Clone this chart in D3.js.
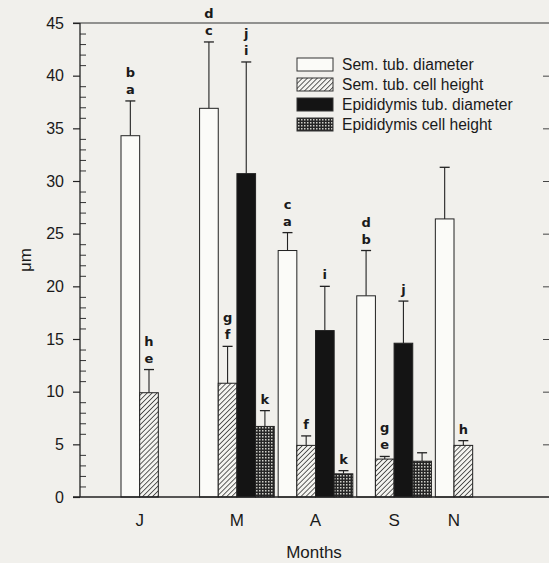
<!DOCTYPE html>
<html>
<head>
<meta charset="utf-8">
<script src="https://cdn.jsdelivr.net/npm/d3@7"></script>
<style>
  html, body { margin: 0; padding: 0; background: #f1f0ec; }
  svg { display: block; }
  .tick-label { font-family: "Liberation Sans", Arial, sans-serif; font-size: 16px; fill: #1a1a1a; }
  .month-label { font-family: "Liberation Sans", Arial, sans-serif; font-size: 17px; fill: #1a1a1a; }
  .axis-title { font-family: "Liberation Sans", Arial, sans-serif; font-size: 17px; fill: #1a1a1a; }
  .legend-text { font-family: "Liberation Sans", Arial, sans-serif; font-size: 15.6px; fill: #1a1a1a; }
  .sig { font-family: "DejaVu Sans", sans-serif; font-size: 13px; font-weight: bold; fill: #1a1a1a; }
</style>
</head>
<body>
<script>
/******************* Data ***********************************/
var months = ['J', 'M', 'A', 'S', 'N'];
var seriesNames = ['Sem. tub. diameter', 'Sem. tub. cell height', 'Epididymis tub. diameter', 'Epididymis cell height'];

var semDiameter = [34.3, 36.9, 23.4, 19.1, 26.4];
var semDiameterErr = [3.3, 6.3, 1.7, 4.3, 4.9];
var semDiameterSig = [['b', 'a'], ['d', 'c'], ['c', 'a'], ['d', 'b'], []];

var semHeight = [9.9, 10.8, 4.9, 3.6, 4.9];
var semHeightErr = [2.2, 3.5, 0.9, 0.25, 0.45];
var semHeightSig = [['h', 'e'], ['g', 'f'], ['f'], ['g', 'e'], ['h']];

var epiDiameter = [null, 30.7, 15.8, 14.6, null];
var epiDiameterErr = [null, 10.6, 4.2, 4.0, null];
var epiDiameterSig = [[], ['j', 'i'], ['i'], ['j'], []];

var epiHeight = [null, 6.7, 2.2, 3.4, null];
var epiHeightErr = [null, 1.5, 0.3, 0.8, null];
var epiHeightSig = [[], ['k'], ['k'], [], []];

var yTicks = [0, 5, 10, 15, 20, 25, 30, 35, 40, 45];

/******************* Setup **********************************/
var width = 549, height = 563;
var fills = ['#fbfbf8', 'url(#hatch)', '#141414', 'url(#checks)'];

var values = [semDiameter, semHeight, epiDiameter, epiHeight];
var errors = [semDiameterErr, semHeightErr, epiDiameterErr, epiHeightErr];
var sigs = [semDiameterSig, semHeightSig, epiDiameterSig, epiHeightSig];

var svg = d3.select('body').append('svg')
  .attr('width', width)
  .attr('height', height);

var defs = svg.append('defs');

var hatch = defs.append('pattern')
  .attr('id', 'hatch')
  .attr('patternUnits', 'userSpaceOnUse')
  .attr('width', 3.5)
  .attr('height', 3.5)
  .attr('patternTransform', 'rotate(45)');
hatch.append('rect').attr('width', 3.5).attr('height', 3.5).attr('fill', '#f4f4f0');
hatch.append('line')
  .attr('x1', 0).attr('y1', 0).attr('x2', 0).attr('y2', 3.5)
  .attr('stroke', '#2a2a2a').attr('stroke-width', 1.5);

// fine checker: dark ground with light dots
var checks = defs.append('pattern')
  .attr('id', 'checks')
  .attr('patternUnits', 'userSpaceOnUse')
  .attr('width', 3)
  .attr('height', 3);
checks.append('rect').attr('width', 3).attr('height', 3).attr('fill', '#262626');
checks.append('rect').attr('x', 1).attr('y', 1).attr('width', 1.5).attr('height', 1.5).attr('fill', '#cfcfc9');

var y = d3.scaleLinear().domain([0, 45]).range([497, 23]);

var x = d3.scaleBand()
  .domain(months)
  .range([121, 510])
  .paddingInner(0.05)
  .paddingOuter(0);

var xs = d3.scaleBand()
  .domain(d3.range(seriesNames.length))
  .range([0, x.bandwidth()]);

var axisLeft = 80, axisRight = 549;

/******************* Frame & axes ***************************/
svg.append('line')
  .attr('x1', 73).attr('x2', axisRight + 1)
  .attr('y1', y(45)).attr('y2', y(45))
  .attr('stroke', '#333').attr('stroke-width', 1.2);

var yAxis = d3.axisLeft(y)
  .tickValues(yTicks)
  .tickSize(7)
  .tickPadding(9)
  .tickFormat(d3.format('d'));

var gy = svg.append('g')
  .attr('transform', 'translate(' + axisLeft + ',0)')
  .call(yAxis);
gy.select('.domain').remove();
gy.selectAll('.tick line').attr('stroke', '#222').attr('stroke-width', 1.2);
gy.selectAll('.tick text').attr('class', 'tick-label').attr('font-size', null).attr('font-family', null);

var minorTicks = d3.range(0, 46).filter(function(v) { return v % 5 !== 0; });
var yMinor = d3.axisRight(y)
  .tickValues(minorTicks)
  .tickSize(6)
  .tickFormat('');
var gm = svg.append('g')
  .attr('transform', 'translate(' + axisLeft + ',0)')
  .call(yMinor);
gm.select('.domain').remove();
gm.selectAll('.tick line').attr('stroke', '#333').attr('stroke-width', 1);

svg.append('line')
  .attr('x1', axisLeft).attr('x2', axisLeft)
  .attr('y1', y(45)).attr('y2', y(0))
  .attr('stroke', '#222').attr('stroke-width', 1.3);

var yRight = d3.axisLeft(y)
  .tickValues(yTicks.slice(1, -1))
  .tickSize(6)
  .tickFormat('');
var gr = svg.append('g')
  .attr('transform', 'translate(' + axisRight + ',0)')
  .call(yRight);
gr.select('.domain').remove();
gr.selectAll('.tick line').attr('stroke', '#444').attr('stroke-width', 1);

svg.append('text')
  .attr('class', 'axis-title')
  .attr('transform', 'translate(31,' + y(22.5) + ') rotate(-90)')
  .attr('text-anchor', 'middle')
  .text('μm');

/******************* Bars ***********************************/
var barData = [];
values.forEach(function(vals, s) {
  vals.forEach(function(v, m) {
    if (v !== null) {
      barData.push({ month: months[m], s: s, value: v, err: errors[s][m], sig: sigs[s][m] });
    }
  });
});

function barX(d) { return x(d.month) + xs(d.s); }
function barMid(d) { return barX(d) + xs.bandwidth() / 2; }

var bars = svg.append('g').selectAll('g.bar')
  .data(barData)
  .enter().append('g')
  .attr('class', 'bar');

bars.append('line')
  .attr('x1', barMid).attr('x2', barMid)
  .attr('y1', function(d) { return y(d.value); })
  .attr('y2', function(d) { return y(d.value + d.err); })
  .attr('stroke', '#222').attr('stroke-width', 1.1);

bars.append('line')
  .attr('x1', function(d) { return barMid(d) - 5; })
  .attr('x2', function(d) { return barMid(d) + 5; })
  .attr('y1', function(d) { return y(d.value + d.err); })
  .attr('y2', function(d) { return y(d.value + d.err); })
  .attr('stroke', '#222').attr('stroke-width', 1.3);

bars.append('rect')
  .attr('x', barX)
  .attr('y', function(d) { return y(d.value); })
  .attr('width', xs.bandwidth())
  .attr('height', function(d) { return y(0) - y(d.value); })
  .attr('fill', function(d) { return fills[d.s]; })
  .attr('stroke', '#222')
  .attr('stroke-width', 1);

bars.each(function(d) {
  var g = d3.select(this);
  var top = y(d.value + d.err);
  var n = d.sig.length;
  d.sig.forEach(function(letter, i) {
    g.append('text')
      .attr('class', 'sig')
      .attr('x', barMid(d))
      .attr('y', top - 7 - (n - 1 - i) * 17)
      .attr('text-anchor', 'middle')
      .text(letter);
  });
});

svg.append('line')
  .attr('x1', 73).attr('x2', axisRight + 1)
  .attr('y1', y(0)).attr('y2', y(0))
  .attr('stroke', '#222').attr('stroke-width', 1.3);

/******************* Month labels ***************************/
svg.append('g').selectAll('text')
  .data(months)
  .enter().append('text')
  .attr('class', 'month-label')
  .attr('text-anchor', 'middle')
  .attr('x', function(m, i) {
    var present = d3.range(values.length).filter(function(s) { return values[s][i] !== null; });
    var x0 = x(m) + xs(d3.min(present));
    var x1 = x(m) + xs(d3.max(present)) + xs.bandwidth();
    return (x0 + x1) / 2;
  })
  .attr('y', 526)
  .text(function(m) { return m; });

svg.append('text')
  .attr('class', 'axis-title')
  .attr('x', 314)
  .attr('y', 558)
  .attr('text-anchor', 'middle')
  .text('Months');

/******************* Legend *********************************/
var legend = svg.append('g').attr('transform', 'translate(297,58)');
var rows = legend.selectAll('g')
  .data(seriesNames)
  .enter().append('g')
  .attr('transform', function(d, i) { return 'translate(0,' + (i * 20) + ')'; });

rows.append('rect')
  .attr('width', 36)
  .attr('height', 13)
  .attr('fill', function(d, i) { return fills[i]; })
  .attr('stroke', '#333')
  .attr('stroke-width', 1);

rows.append('text')
  .attr('class', 'legend-text')
  .attr('x', 45)
  .attr('y', 12)
  .text(function(d) { return d; });
</script>
</body>
</html>
